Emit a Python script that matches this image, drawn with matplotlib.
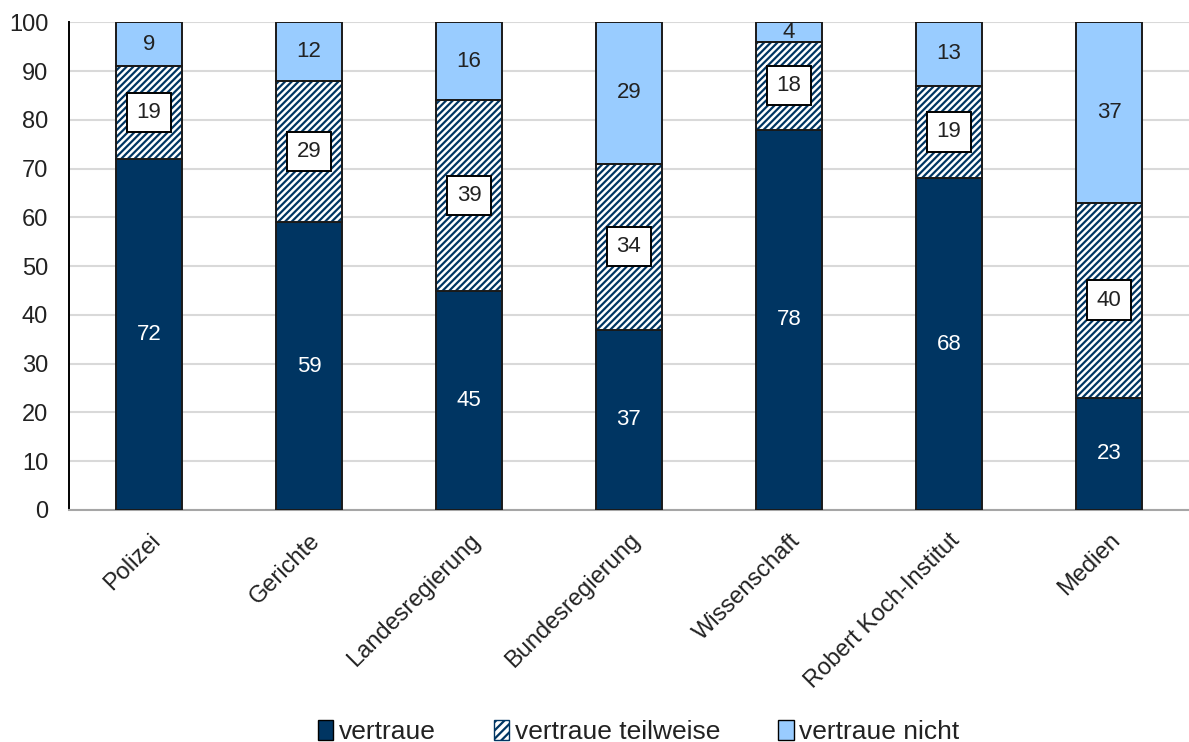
import numpy as np
import matplotlib
matplotlib.use('Agg')
from matplotlib import pyplot as plt
from matplotlib.patches import Patch

plt.rcParams['font.family'] = ['Liberation Sans', 'DejaVu Sans']
plt.rcParams['hatch.linewidth'] = 1.6

categories = ['Polizei', 'Gerichte', 'Landesregierung', 'Bundesregierung',
              'Wissenschaft', 'Robert Koch-Institut', 'Medien']
vertraue = [72, 59, 45, 37, 78, 68, 23]
teilweise = [19, 29, 39, 34, 18, 19, 40]
nicht = [9, 12, 16, 29, 4, 13, 37]

navy = '#003562'
light = '#99ccff'

fig = plt.figure(figsize=(11.89, 7.42), dpi=100)
ax = fig.add_axes([0.058, 0.3127, 0.942, 0.6573])

x = np.arange(len(categories))
w = 0.41
v = np.array(vertraue)
t = np.array(teilweise)
n = np.array(nicht)

ax.bar(x, v, w, color=navy, edgecolor='#1a1a1a', linewidth=1.4, zorder=3)
# hatched part: hatch drawn in navy, outline drawn separately
ax.bar(x, t, w, bottom=v, color='white', edgecolor=navy, linewidth=0,
       hatch='/////', zorder=3)
ax.bar(x, t, w, bottom=v, fill=False, edgecolor='#1a1a1a', linewidth=1.4, zorder=4)
ax.bar(x, n, w, bottom=v + t, color=light, edgecolor='#1a1a1a', linewidth=1.4, zorder=3)

for i in x:
    ax.text(i, v[i] / 2, str(v[i]), ha='center', va='center', color='white',
            fontsize=16, zorder=5)
    ax.text(i, v[i] + t[i] / 2, str(t[i]), ha='center', va='center', color='#222222',
            fontsize=16, zorder=5,
            bbox=dict(boxstyle='square,pad=0.42', fc='white', ec='black', lw=1.4))
    ax.text(i, v[i] + t[i] + n[i] / 2, str(n[i]), ha='center', va='center',
            color='#222222', fontsize=16, zorder=5)

ax.set_ylim(0, 100)
ax.set_xlim(-0.5, len(categories) - 0.5)
ax.set_yticks(range(0, 101, 10))
ax.yaxis.grid(True, color='#d9d9d9', linewidth=1.5, zorder=0)
ax.set_axisbelow(True)
for s in ['top', 'right']:
    ax.spines[s].set_visible(False)
ax.spines['left'].set_color('black')
ax.spines['left'].set_linewidth(1.4)
ax.spines['bottom'].set_color('#a6a6a6')
ax.spines['bottom'].set_linewidth(1.5)
ax.tick_params(axis='y', length=0, labelsize=17, pad=15, labelcolor='#222222')
ax.tick_params(axis='x', length=0, labelsize=17, pad=14, labelcolor='#222222')
ax.set_xticks(x)
ax.set_xticklabels(categories, rotation=45, ha='right', rotation_mode='anchor')

handles = [Patch(facecolor=navy, edgecolor='black', label='vertraue'),
           Patch(facecolor='white', edgecolor=navy, hatch='////', label='vertraue teilweise'),
           Patch(facecolor=light, edgecolor='black', label='vertraue nicht')]
fig.legend(handles=handles, loc='lower center', bbox_to_anchor=(0.537, -0.035), ncol=3,
           frameon=False, fontsize=19, handlelength=0.6, handleheight=0.8,
           handletextpad=0.2, columnspacing=2.2, labelcolor='#222222')

fig.savefig('out.png', dpi=100)
